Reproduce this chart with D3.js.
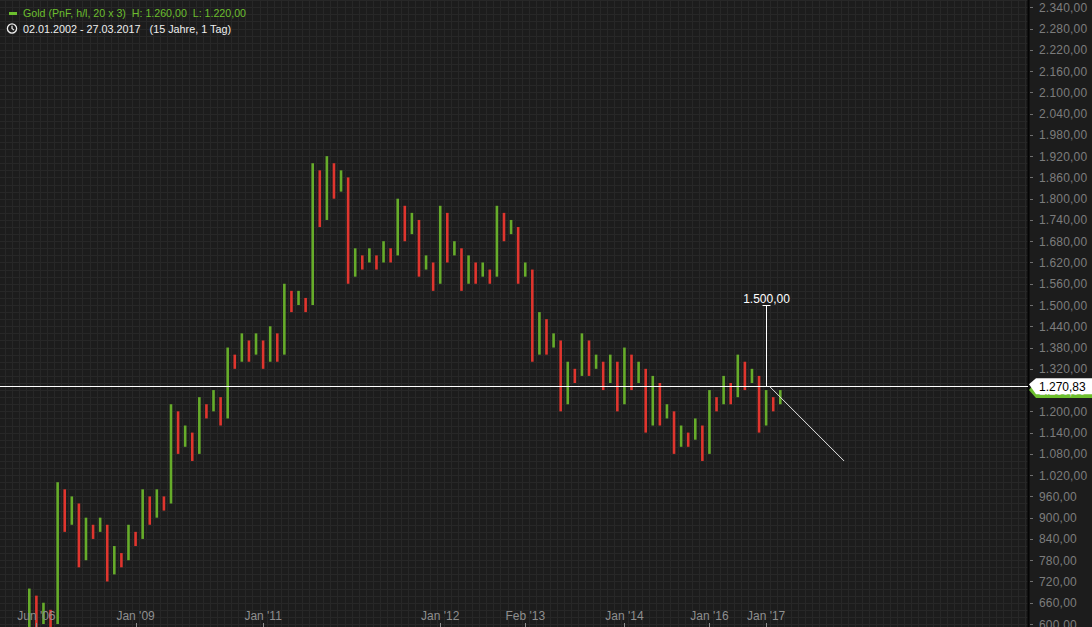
<!DOCTYPE html>
<html><head><meta charset="utf-8">
<script src="https://cdn.jsdelivr.net/npm/d3@7"></script>
<style>
html,body{margin:0;padding:0;background:#1c1c1c;overflow:hidden;}
svg{display:block;font-family:"Liberation Sans",Arial,sans-serif;}
.pre{white-space:pre;}
</style></head><body>
<svg id="chart" width="1092" height="627"></svg>
<script>
// ---- Data (Point & Figure columns, box 20, reversal 3) ----
const colType = ["X","O","X","O","X","O","X","O","X","O","X","O","X","O","X","O","X","O","X","O",
  "X","O","X","O","X","O","X","O","X","O","X","O","X","O","X","O","X","O","X","O",
  "X","O","X","O","X","O","X","O","X","O","X","O","X","O","X","O","X","O","X","O",
  "X","O","X","O","X","O","X","O","X","O","X","O","X","O","X","O","X","O","X","O",
  "X","O","X","O","X","O","X","O","X","O","X","O","X","O","X","O","X","O","X","O",
  "X","O","X","O","X","O","X"];
const colLow = [560,580,600,580,600,860,880,760,780,840,860,720,740,760,780,820,840,880,900,920,
  940,1080,1100,1060,1080,1180,1200,1160,1180,1320,1340,1340,1360,1320,1340,1340,1360,1480,1500,1480,
  1500,1720,1740,1800,1820,1560,1580,1600,1620,1600,1620,1620,1640,1680,1700,1580,1600,1540,1560,1620,
  1640,1540,1560,1560,1580,1560,1580,1680,1700,1560,1580,1340,1360,1360,1380,1200,1220,1280,1300,1300,
  1320,1260,1280,1200,1220,1260,1280,1140,1160,1160,1180,1080,1100,1100,1120,1060,1080,1200,1220,1220,
  1240,1260,1280,1140,1160,1200,1220];
const colHigh = [700,680,660,640,1000,980,960,940,900,880,900,880,820,800,880,860,980,960,980,960,
  1220,1200,1160,1140,1240,1220,1260,1240,1380,1360,1420,1400,1420,1400,1440,1420,1560,1540,1540,1520,
  1900,1880,1920,1900,1880,1860,1660,1640,1660,1640,1680,1660,1800,1780,1760,1740,1640,1620,1780,1760,
  1680,1660,1640,1620,1620,1600,1780,1760,1740,1720,1620,1600,1480,1460,1420,1400,1340,1320,1420,1400,
  1360,1340,1360,1340,1380,1360,1340,1320,1300,1280,1220,1200,1160,1140,1180,1160,1260,1240,1300,1280,
  1360,1340,1320,1300,1260,1240,1260];
const xTickCols = [1,15,33,58,70,84,96,104];
const xTickLabels = ["Jun '06","Jan '09","Jan '11","Jan '12","Feb '13","Jan '14","Jan '16","Jan '17"];
const yTickValues = d3.range(600, 2341, 60);
const lastPrice = 1270.83;
const lastClose = 1260;
const targetCol = 104, targetValue = 1500;
const trendStart = {col: 104.5, value: 1270};
const trendEnd = {col: 115, value: 1060};
const legendTitle = "Gold (PnF, h/l, 20 x 3)  H: 1.260,00  L: 1.220,00";
const legendRange = "02.01.2002 - 27.03.2017   (15 Jahre, 1 Tag)";

// ---- Setup ----
const W = 1092, H = 627, plotRight = 1028;
const svg = d3.select("#chart");
const de = d3.formatLocale({decimal: ",", thousands: ".", grouping: [3], currency: ["", ""]});
const fmt = de.format(",.2f");

const x = d3.scaleLinear().domain([0, 106]).range([29.3, 780.3]);
const y = d3.scaleLinear().domain([600, 2340]).range([624, 7.3]);
const colW = x(1) - x(0);

svg.append("rect").attr("width", W).attr("height", H).attr("fill", "#1c1c1c");

// grid
const grid = svg.append("g").attr("shape-rendering", "crispEdges");
const vCols = d3.range(-5, 146).filter(d => x(d) + colW / 2 < plotRight);
grid.selectAll("line.v").data(vCols).join("line")
  .attr("x1", d => Math.round(x(d) + colW / 2) + 0.5)
  .attr("x2", d => Math.round(x(d) + colW / 2) + 0.5)
  .attr("y1", 0).attr("y2", H)
  .attr("stroke", "#272727").attr("stroke-width", 1);
const hVals = d3.range(560, 2381, 20);
grid.selectAll("line.h").data(hVals).join("line")
  .attr("x1", 0).attr("x2", plotRight)
  .attr("y1", d => Math.round(y(d)) + 0.5).attr("y2", d => Math.round(y(d)) + 0.5)
  .attr("stroke", "#272727").attr("stroke-width", 1);

// bars
const cols = colType.map((t, i) => ({i, t, lo: colLow[i], hi: colHigh[i]}));
const bars = svg.append("g");
bars.selectAll("rect").data(cols).join("rect")
  .attr("x", d => x(d.i) - 1.3)
  .attr("width", 2.6)
  .attr("y", d => y(d.hi))
  .attr("height", d => y(d.lo) - y(d.hi))
  .attr("fill", d => d.t === "X" ? "#66ac2a" : "#e0352e");

// x axis labels
const xa = svg.append("g");
xa.selectAll("text").data(xTickCols).join("text")
  .attr("x", d => x(d)).attr("y", 620)
  .attr("text-anchor", "middle")
  .attr("font-size", 12).attr("fill", "#8f8f8f")
  .text((d, i) => xTickLabels[i]);
xa.selectAll("line").data(xTickCols).join("line")
  .attr("x1", d => Math.round(x(d)) + 0.5).attr("x2", d => Math.round(x(d)) + 0.5)
  .attr("y1", 623).attr("y2", 627).attr("stroke", "#8f8f8f");

// right axis panel
svg.append("rect").attr("x", plotRight).attr("y", 0).attr("width", W - plotRight).attr("height", H).attr("fill", "#1c1c1c");
svg.append("line").attr("x1", plotRight + 0.5).attr("x2", plotRight + 0.5).attr("y1", 0).attr("y2", H)
  .attr("stroke", "#050505").attr("stroke-width", 2);
const ya = svg.append("g");
ya.selectAll("line").data(yTickValues).join("line")
  .attr("x1", 1030).attr("x2", 1033)
  .attr("y1", d => Math.round(y(d)) + 0.5).attr("y2", d => Math.round(y(d)) + 0.5)
  .attr("stroke", "#6f6f6f");
ya.selectAll("text").data(yTickValues).join("text")
  .attr("x", 1039).attr("y", d => y(d) + 4.5)
  .attr("font-size", 12).attr("fill", "#7c7c7c").attr("letter-spacing", 0.2)
  .text(d => fmt(d));

// last close label (green, behind)
const yc = y(lastClose);
svg.append("path")
  .attr("d", `M1029,${yc} L1036,${yc - 8} L1092,${yc - 8} L1092,${yc + 8} L1036,${yc + 8} Z`)
  .attr("fill", "#6cbf2e");
svg.append("text").attr("x", 1039).attr("y", yc + 4.5).attr("font-size", 12).attr("fill", "#dcdcdc")
  .text(fmt(lastClose));

// current price line & label
const yp = y(lastPrice);
svg.append("line").attr("x1", 0).attr("x2", plotRight).attr("y1", Math.round(yp) + 0.5).attr("y2", Math.round(yp) + 0.5)
  .attr("stroke", "#ffffff").attr("stroke-width", 1);
svg.append("path")
  .attr("d", `M1029,${yp - 2} L1036,${yp - 8} L1092,${yp - 8} L1092,${yp + 8} L1036,${yp + 8} Z`)
  .attr("fill", "#ffffff");
svg.append("text").attr("x", 1039).attr("y", yp + 4.5).attr("font-size", 12).attr("fill", "#000")
  .text(fmt(lastPrice));

// target annotation
const tx = Math.round(x(targetCol)) + 0.5;
svg.append("line").attr("x1", tx).attr("x2", tx).attr("y1", y(targetValue)).attr("y2", yp)
  .attr("stroke", "#ffffff").attr("stroke-width", 1);
svg.append("line").attr("x1", tx - 4).attr("x2", tx + 4).attr("y1", Math.round(y(targetValue)) + 0.5).attr("y2", Math.round(y(targetValue)) + 0.5)
  .attr("stroke", "#ffffff").attr("stroke-width", 1);
svg.append("text").attr("x", tx).attr("y", y(targetValue) - 2.5).attr("text-anchor", "middle")
  .attr("font-size", 12).attr("fill", "#ffffff").text(fmt(targetValue));

// trend line
svg.append("line")
  .attr("x1", x(trendStart.col)).attr("y1", y(trendStart.value))
  .attr("x2", x(trendEnd.col)).attr("y2", y(trendEnd.value))
  .attr("stroke", "#e6e6e6").attr("stroke-width", 1);

// legend
svg.append("rect").attr("x", 9).attr("y", 12).attr("width", 8).attr("height", 3).attr("fill", "#6cbf2e");
svg.append("text").attr("class", "pre").attr("x", 23).attr("y", 17).attr("font-size", 11)
  .attr("textLength", 223).attr("lengthAdjust", "spacingAndGlyphs")
  .attr("fill", "#6cbf2e").text(legendTitle);
const clock = svg.append("g").attr("transform", "translate(12,28.5)");
clock.append("circle").attr("r", 4.6).attr("fill", "none").attr("stroke", "#eeeeee").attr("stroke-width", 1.3);
clock.append("path").attr("d", "M0,-2.8 L0,0 L2,1.6").attr("fill", "none").attr("stroke", "#eeeeee").attr("stroke-width", 1.2);
svg.append("text").attr("class", "pre").attr("x", 23).attr("y", 33).attr("font-size", 11)
  .attr("textLength", 208).attr("lengthAdjust", "spacingAndGlyphs")
  .attr("fill", "#eeeeee").text(legendRange);
</script>
</body></html>
